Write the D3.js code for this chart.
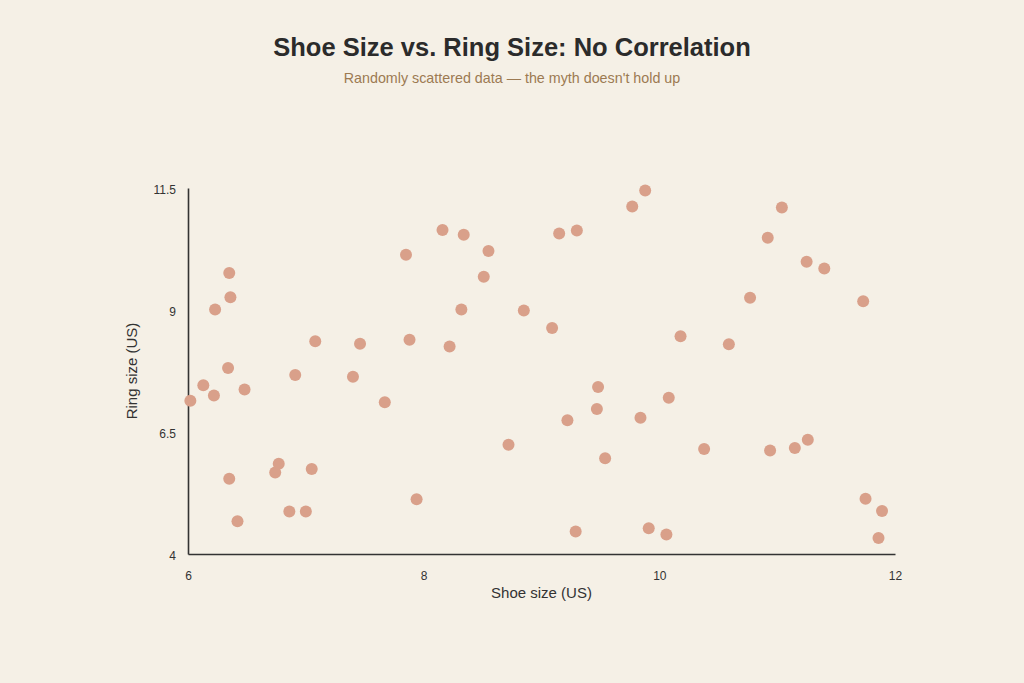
<!DOCTYPE html>
<html>
<head>
<meta charset="utf-8">
<script src="https://cdn.jsdelivr.net/npm/d3@7"></script>
<style>
  body { margin: 0; background: #f5f0e6; }
  svg { display: block; font-family: "Liberation Sans", Arial, sans-serif; }
</style>
</head>
<body>
<div id="chart"></div>
<script>
const shoeSize = [
  6.02, 6.13, 6.22, 6.23, 6.35, 6.36, 6.34, 6.35, 6.42, 6.48,
  6.74, 6.77, 6.86, 6.91, 7.00, 7.05, 7.08, 7.40, 7.46, 7.67,
  7.85, 7.88, 7.94, 8.16, 8.22, 8.32, 8.34, 8.51, 8.55, 8.72,
  8.85, 9.09, 9.15, 9.22, 9.29, 9.30, 9.47, 9.48, 9.54, 9.77,
  9.84, 9.88, 9.91, 10.06, 10.08, 10.18, 10.38, 10.59, 10.77, 10.92,
  10.94, 11.04, 11.15, 11.25, 11.26, 11.40, 11.73, 11.75, 11.86, 11.89
]
const ringSize = [
  7.14, 7.46, 7.25, 9.01, 9.76, 9.26, 7.81, 5.54, 4.67, 7.37,
  5.67, 5.85, 4.87, 7.67, 4.87, 5.74, 8.36, 7.63, 8.31, 7.11,
  10.13, 8.39, 5.12, 10.64, 8.25, 9.01, 10.54, 9.68, 10.21, 6.24,
  8.99, 8.63, 10.57, 6.74, 4.46, 10.63, 6.97, 7.42, 5.96, 11.12,
  6.79, 11.45, 4.53, 4.40, 7.20, 8.46, 6.15, 8.30, 9.25, 10.48,
  6.12, 11.10, 6.17, 9.99, 6.34, 9.85, 9.18, 5.13, 4.33, 4.88
]
const xTicks = [6, 8, 10, 12]
const yTicks = [4, 6.5, 9, 11.5]

const points = shoeSize.map((s, i) => ({shoe: s, ring: ringSize[i]}))

const W = 1024, H = 683
const margin = {top: 188, right: 129, bottom: 129, left: 188}
const width = W - margin.left - margin.right
const height = H - margin.top - margin.bottom

const svg = d3.select("#chart")
  .append("svg")
    .attr("width", W)
    .attr("height", H)

svg.append("rect")
  .attr("width", W)
  .attr("height", H)
  .attr("fill", "#f5f0e6")

// Titles
svg.append("text")
  .attr("x", W / 2)
  .attr("y", 56)
  .attr("text-anchor", "middle")
  .attr("font-size", 25.5)
  .attr("font-weight", "bold")
  .attr("fill", "#2b2b2b")
  .text("Shoe Size vs. Ring Size: No Correlation")

svg.append("text")
  .attr("x", W / 2)
  .attr("y", 83)
  .attr("text-anchor", "middle")
  .attr("font-size", 14.3)
  .attr("fill", "#9c7a52")
  .text("Randomly scattered data \u2014 the myth doesn't hold up")

const g = svg.append("g")
  .attr("transform", "translate(" + margin.left + "," + margin.top + ")")

// Scales
const x = d3.scaleLinear()
  .domain([6, 12])
  .range([0, width])

const y = d3.scaleLinear()
  .domain([4, 11.5])
  .range([height, 0])

// Axes
const xAxis = g.append("g")
  .attr("transform", "translate(0," + height + ")")
  .call(d3.axisBottom(x).tickValues(xTicks).tickSize(0).tickPadding(17).tickFormat(d3.format("")))

const yAxis = g.append("g")
  .call(d3.axisLeft(y).tickValues(yTicks).tickSize(0).tickPadding(12).tickFormat(d3.format("")))

yAxis.selectAll("text").attr("dy", "0.42em")

;[xAxis, yAxis].forEach(a => {
  a.select(".domain").attr("stroke", "#333").attr("stroke-width", 1.6)
  a.selectAll("text")
    .attr("font-size", 12)
    .attr("fill", "#333")
    .attr("font-family", "Liberation Sans, Arial, sans-serif")
})

// Axis labels
g.append("text")
  .attr("x", width / 2)
  .attr("y", height + 44)
  .attr("text-anchor", "middle")
  .attr("font-size", 15)
  .attr("fill", "#333")
  .text("Shoe size (US)")

g.append("text")
  .attr("transform", "translate(-51," + (height / 2) + ") rotate(-90)")
  .attr("text-anchor", "middle")
  .attr("font-size", 15)
  .attr("fill", "#333")
  .text("Ring size (US)")

// Points
g.selectAll("circle.pt")
  .data(points)
  .enter()
  .append("circle")
  .classed("pt", true)
  .attr("cx", d => x(d.shoe))
  .attr("cy", d => y(d.ring))
  .attr("r", 6)
  .attr("fill", "#d9a08a")
</script>
</body>
</html>
